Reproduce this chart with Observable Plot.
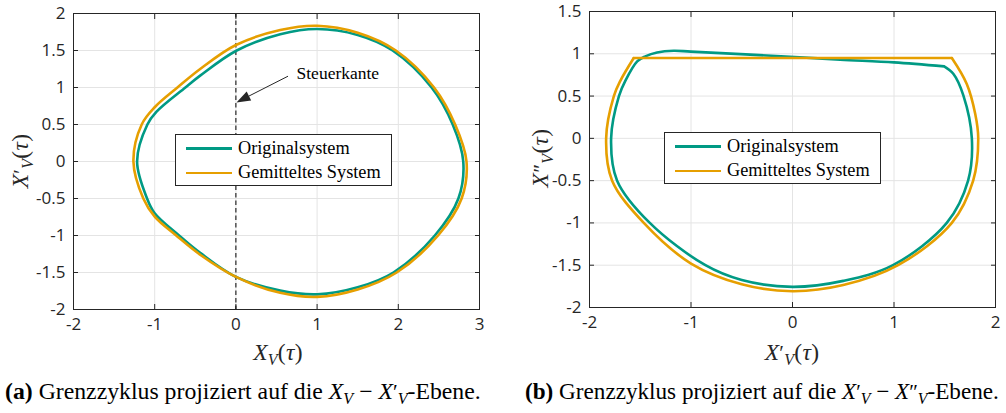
<!DOCTYPE html>
<html><head><meta charset="utf-8">
<script src="https://cdn.jsdelivr.net/npm/d3@7"></script>
<script src="https://cdn.jsdelivr.net/npm/@observablehq/plot@0.6"></script>
<style>
body{margin:0;background:#fff;width:1006px;height:413px;overflow:hidden;position:relative;font-family:"Liberation Serif",serif;color:#000}
.chart{position:absolute;top:0}
.lbl{position:absolute;font-size:23.5px;line-height:1;white-space:nowrap;color:#262626;letter-spacing:0.3px}
.pr{font-style:normal;font-size:0.9em}
sub{font-size:0.68em;vertical-align:-0.3em;line-height:0}
.cap{position:absolute;top:380px;font-size:19.5px;line-height:1;white-space:nowrap}
.leg{position:absolute;border:1px solid #262626;background:#fff;box-sizing:border-box}
.leg .row{position:absolute;left:0;height:0}
.leg .ln{position:absolute;height:2.5px;width:46px;left:10px}
.leg .tx{position:absolute;left:62px;font-size:18.3px;line-height:1;white-space:nowrap;transform:translateY(-55%)}
</style></head><body>
<div id="a" class="chart" style="left:0"></div>
<div id="b" class="chart" style="left:500px"></div>
<script>
// ---------- data ----------
const xTicksA = [-2, -1, 0, 1, 2, 3];
const yTicksA = [-2, -1.5, -1, -0.5, 0, 0.5, 1, 1.5, 2];
const xTicksB = [-2, -1, 0, 1, 2];
const yTicksB = [-2, -1.5, -1, -0.5, 0, 0.5, 1, 1.5];
const seriesNames = ["Originalsystem", "Gemitteltes System"];
const seriesColors = ["#009a84", "#e69f00"];

// (a) X_V vs X'_V  (closed limit cycles)
const origA_x = [0.546, 1.0, 1.5, 1.93, 2.41, 2.67, 2.80, 2.74, 2.45, 1.94, 1.5, 1.0, 0.546, 0.0, -0.44, -0.70, -1.0, -1.094, -1.217, -1.09, -0.98, -0.622, -0.44, 0.01];
const origA_y = [1.72, 1.79, 1.71, 1.5, 1.0, 0.5, 0.0, -0.5, -1.0, -1.5, -1.70, -1.795, -1.745, -1.56, -1.235, -1.0, -0.70, -0.5, 0.0, 0.5, 0.67, 1.0, 1.16, 1.5];
const gemA_x = [0.546, 1.0, 1.5, 1.97, 2.44, 2.70, 2.84, 2.78, 2.49, 1.98, 1.5, 1.0, 0.546, 0.0, -0.44, -0.735, -1.0, -1.14, -1.262, -1.16, -1.0, -0.72, -0.44, 0.0];
const gemA_y = [1.776, 1.834, 1.74, 1.5, 1.0, 0.5, 0.0, -0.5, -1.0, -1.5, -1.73, -1.83, -1.775, -1.56, -1.26, -1.0, -0.745, -0.5, 0.0, 0.5, 0.733, 1.0, 1.25, 1.574];

// (b) X'_V vs X''_V
const origB_x = [1.494, 1.586, 1.684, 1.767, 1.73, 1.52, 0.99, 0.5, 0.0, -0.5, -0.858, -1.406, -1.728, -1.787, -1.71, -1.646, -1.53, -1.45, -1.334, -1.17, -1.0, -0.022, 0.47, 1.0, 1.494];
const origB_y = [0.851, 0.761, 0.506, 0.0, -0.5, -1.0, -1.5, -1.685, -1.756, -1.675, -1.5, -1.0, -0.5, 0.0, 0.5, 0.683, 0.91, 0.97, 1.016, 1.036, 1.025, 0.965, 0.93, 0.898, 0.851];
const gemB_x = [1.57, 1.717, 1.80, 1.83, 1.78, 1.57, 1.04, 0.5, 0.0, -0.5, -1.0, -1.465, -1.777, -1.836, -1.76, -1.695, -1.564];
const gemB_y = [0.95, 0.643, 0.29, 0.0, -0.5, -1.0, -1.5, -1.735, -1.807, -1.725, -1.48, -1.0, -0.5, 0.0, 0.5, 0.683, 0.95];
const gemBTop_x = [-1.564, 1.57];
const gemBTop_y = [0.95, 0.95];

// annotation (a): control edge at X_V = 0
const edgeX = [0];
const arrowTail = [0.648, 1.146];
const arrowTip = [0.013, 0.792];
const annotText = "Steuerkante";

// ---------- helpers ----------
const pts = (xs, ys) => xs.map((x, i) => ({x, y: ys[i]}));
const fmt = d => String(d);
const ink = "#262626";
const grid = "#e4e4e4";

function axes(xt, yt) {
  const tick = {tickSize: -5, fill: "none", stroke: ink, label: null};
  return [
    Plot.gridX(xt, {stroke: grid, strokeOpacity: 1}),
    Plot.gridY(yt, {stroke: grid, strokeOpacity: 1}),
    Plot.axisX(xt, {anchor: "bottom", ...tick}),
    Plot.axisX(xt, {anchor: "top", ...tick}),
    Plot.axisY(yt, {anchor: "left", ...tick}),
    Plot.axisY(yt, {anchor: "right", ...tick}),
    Plot.axisX(xt, {anchor: "bottom", tickSize: 0, tickPadding: 8, tickFormat: fmt, label: null, fill: ink, fontSize: 17, fontFamily: "Open Sans"}),
    Plot.axisY(yt, {anchor: "left", tickSize: 0, tickPadding: 8, tickFormat: fmt, label: null, fill: ink, fontSize: 17, fontFamily: "Open Sans"})
  ];
}

function arrowMark(tail, tip) {
  return (index, scales) => {
    const x0 = scales.x(tail[0]), y0 = scales.y(tail[1]);
    const x1 = scales.x(tip[0]), y1 = scales.y(tip[1]);
    const a = Math.atan2(y1 - y0, x1 - x0), L = 14, W = 5;
    const bx = x1 - L * Math.cos(a), by = y1 - L * Math.sin(a);
    const px = -Math.sin(a) * W, py = Math.cos(a) * W;
    const g = d3.create("svg:g");
    g.append("line").attr("x1", x0).attr("y1", y0).attr("x2", bx).attr("y2", by)
      .attr("stroke", ink).attr("stroke-width", 1);
    g.append("path").attr("d", `M${x1},${y1}L${bx + px},${by + py}L${bx - px},${by - py}Z`).attr("fill", ink);
    return g.node();
  };
}

const lineStyle = (i) => ({x: "x", y: "y", stroke: seriesColors[i], strokeWidth: 2.6});

const chartA = Plot.plot({
  width: 500, height: 370,
  marginLeft: 73, marginRight: 21, marginTop: 13, marginBottom: 61,
  style: {fontFamily: "Open Sans", fontSize: "17px", color: ink, background: "transparent"},
  x: {domain: [-2, 3]},
  y: {domain: [-2, 2]},
  marks: [
    ...axes(xTicksA, yTicksA),
    Plot.ruleX(edgeX, {stroke: "#000", strokeWidth: 1, strokeDasharray: "4.5,3"}),
    Plot.line(pts(origA_x, origA_y), {...lineStyle(0), curve: "catmull-rom-closed"}),
    Plot.line(pts(gemA_x, gemA_y), {...lineStyle(1), curve: "catmull-rom-closed"}),
    arrowMark(arrowTail, arrowTip),
    Plot.text([annotText], {x: arrowTail[0], y: arrowTail[1], text: d => d, textAnchor: "start", dx: 8, dy: -3,
      fontSize: 17.5, fontFamily: "Liberation Serif", fill: "#000"}),
    Plot.frame({stroke: ink, strokeWidth: 1})
  ]
});

const chartB = Plot.plot({
  width: 506, height: 370,
  marginLeft: 89, marginRight: 11, marginTop: 11, marginBottom: 63,
  style: {fontFamily: "Open Sans", fontSize: "17px", color: ink, background: "transparent"},
  x: {domain: [-2, 2]},
  y: {domain: [-2, 1.5]},
  marks: [
    ...axes(xTicksB, yTicksB),
    Plot.line(pts(origB_x, origB_y), {...lineStyle(0), curve: "catmull-rom"}),
    Plot.line(pts(gemB_x, gemB_y), {...lineStyle(1), curve: "catmull-rom"}),
    Plot.line(pts(gemBTop_x, gemBTop_y), {...lineStyle(1), curve: "linear"}),
    Plot.frame({stroke: ink, strokeWidth: 1})
  ]
});

document.getElementById("a").appendChild(chartA);
document.getElementById("b").appendChild(chartB);

// ---------- legends ----------
function legend(left, top) {
  const box = document.createElement("div");
  box.className = "leg";
  Object.assign(box.style, {left: left + "px", top: top + "px", width: "217px", height: "52px"});
  seriesNames.forEach((name, i) => {
    const row = document.createElement("div");
    row.className = "row";
    row.style.top = (13.5 + i * 24.3) + "px";
    const ln = document.createElement("div");
    ln.className = "ln"; ln.style.background = seriesColors[i]; ln.style.top = "-1.25px";
    const tx = document.createElement("div");
    tx.className = "tx"; tx.textContent = name;
    row.appendChild(ln); row.appendChild(tx);
    box.appendChild(row);
  });
  document.body.appendChild(box);
}
legend(175, 134);
legend(664, 132);

// ---------- axis labels and captions ----------
function addHTML(html, cls, style) {
  const d = document.createElement("div");
  d.className = cls; d.innerHTML = html;
  Object.assign(d.style, style);
  document.body.appendChild(d);
  return d;
}
function fitFont(el, target) {
  const w = el.getBoundingClientRect().width;
  const fs = parseFloat(getComputedStyle(el).fontSize);
  el.style.fontSize = (fs * target / w) + "px";
}
const XV = '<i>X</i><sub><i>V</i></sub>';
const XV1 = '<i>X</i><span class="pr">′</span><sub><i>V</i></sub>';
const XV2 = '<i>X</i><span class="pr">″</span><sub><i>V</i></sub>';
const tau = '(<i>τ</i>)';

addHTML(XV + tau, "lbl", {left: "278px", top: "341px", transform: "translateX(-50%)"});
addHTML(XV1 + tau, "lbl", {left: "792px", top: "341px", transform: "translateX(-50%)"});
addHTML(XV1 + tau, "lbl", {left: "21px", top: "161px", transform: "translate(-50%,-50%) rotate(-90deg)"});
addHTML(XV2 + tau, "lbl", {left: "541px", top: "158px", transform: "translate(-50%,-50%) rotate(-90deg)"});

const capA = addHTML('<b>(a)</b> Grenzzyklus projiziert auf die ' + XV + ' − ' + XV1 + '-Ebene.', "cap", {left: "5px"});
const capB = addHTML('<b>(b)</b> Grenzzyklus projiziert auf die ' + XV1 + ' − ' + XV2 + '-Ebene.', "cap", {left: "525px"});
fitFont(capA, 476);
fitFont(capB, 474);
</script>
</body></html>
